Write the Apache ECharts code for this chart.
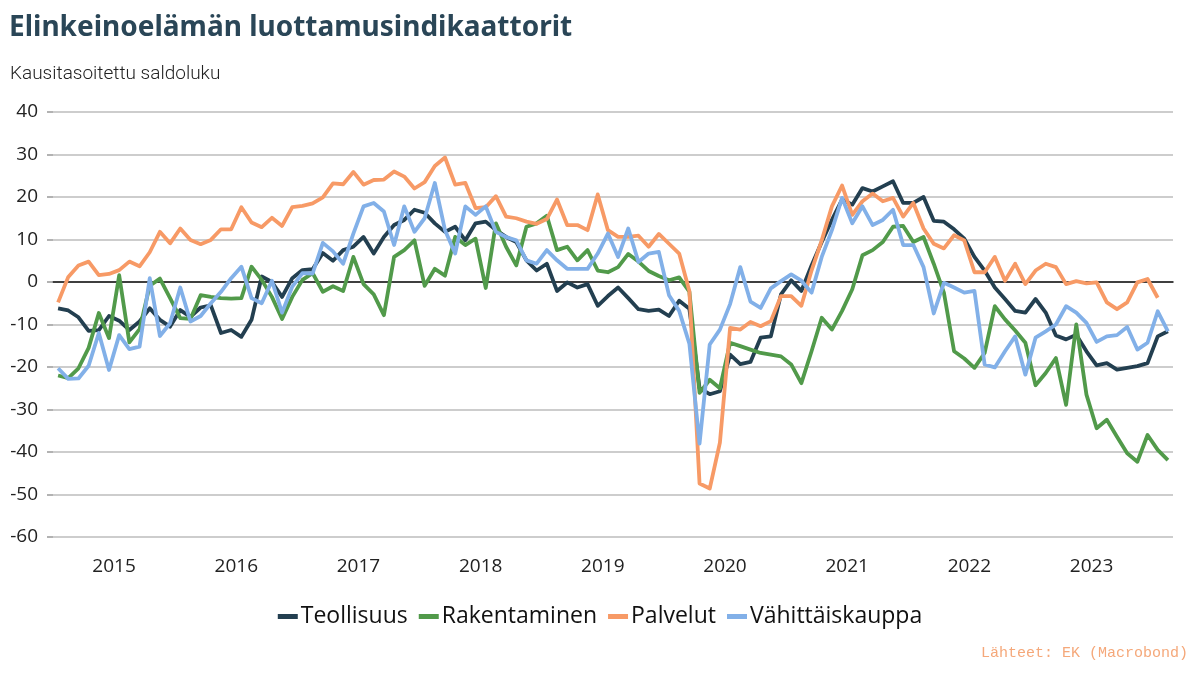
<!DOCTYPE html>
<html><head><meta charset="utf-8">
<script src="https://cdn.jsdelivr.net/npm/echarts@6/dist/echarts.min.js"></script>
<style>html,body{margin:0;padding:0;background:#fff}#c{width:1200px;height:675px}</style>
</head><body><div id="c"></div><script>
// Monthly observations, Jan 2015 – Feb 2024
const startYear = 2015;
const monthCount = 110;
const months = [];
for (let k = 0; k < monthCount; k++) {
  months.push((startYear + Math.floor(k / 12)) + '-' + String(k % 12 + 1).padStart(2, '0'));
}
const yearLabels = ['2015','2016','2017','2018','2019','2020','2021','2022','2023'];

const teollisuus = [
 -6.2,-6.7,-8.3,-11.5,-11.3,-8.0,-9.1,-11.3,-9.3,-6.2,-8.9,-10.5,
 -6.6,-8.2,-6.0,-5.5,-12.0,-11.3,-12.9,-8.9,1.3,0.0,-3.5,0.9,
 2.8,3.0,6.8,5.0,7.5,8.3,10.6,6.7,10.6,13.4,14.6,17.0,
 16.3,13.8,11.8,13.0,9.8,13.8,14.2,12.2,10.6,9.4,5.1,2.7,
 4.3,-2.1,-0.1,-1.3,-0.5,-5.6,-3.3,-1.3,-3.8,-6.4,-6.8,-6.5,
 -8.0,-4.4,-6.3,-25.0,-26.4,-25.7,-17.1,-19.3,-18.8,-13.1,-12.8,-2.9,
 0.4,-2.1,3.9,9.4,14.6,19.4,18.2,22.1,21.3,22.5,23.7,18.6,
 18.6,20.0,14.4,14.2,12.4,10.2,5.9,2.7,-1.3,-4.0,-6.8,-7.2,
 -4.0,-7.2,-12.6,-13.5,-12.4,-16.3,-19.6,-19.1,-20.6,-20.2,-19.8,-19.1,
 -12.8,-11.6
];
const rakentaminen = [
 -22.0,-22.6,-20.3,-15.5,-7.3,-13.2,1.6,-14.2,-11.1,-0.9,0.8,-3.8,
 -8.5,-8.7,-3.1,-3.5,-3.8,-3.9,-3.8,3.6,0.5,-3.5,-8.7,-3.5,
 0.5,2.1,-2.3,-1.0,-2.1,5.9,-0.5,-2.9,-7.8,5.9,7.5,9.8,
 -0.9,3.1,1.5,10.6,8.7,10.2,-1.4,13.8,8.3,3.9,13.0,13.8,
 15.6,7.5,8.3,5.1,7.5,2.7,2.3,3.5,6.6,4.8,2.6,1.4,
 0.4,1.1,-2.3,-26.1,-23.0,-25.0,-14.3,-15.1,-15.9,-16.7,-17.1,-17.5,
 -19.4,-23.8,-16.3,-8.4,-11.2,-6.8,-1.7,6.3,7.5,9.4,13.0,13.2,
 9.4,10.6,4.3,-2.5,-16.3,-18.0,-20.2,-16.7,-5.7,-8.8,-11.4,-14.3,
 -24.3,-21.4,-17.9,-28.9,-10.0,-26.5,-34.4,-32.4,-36.4,-40.3,-42.3,-36.0,
 -39.5,-41.9
];
const palvelut = [
 -4.8,1.2,3.9,4.8,1.6,1.9,2.8,4.8,3.7,7.0,11.8,9.1,
 12.6,9.9,8.9,9.9,12.4,12.4,17.6,14.0,12.9,15.1,13.2,17.6,
 17.9,18.5,19.9,23.2,23.0,25.9,22.9,24.0,24.1,26.0,24.8,22.0,
 23.5,27.3,29.3,22.9,23.3,17.4,17.6,20.2,15.4,15.0,14.2,13.7,
 14.8,19.4,13.4,13.4,12.2,20.6,12.2,10.6,10.6,10.9,8.3,11.3,
 9.0,6.7,-2.1,-47.4,-48.6,-37.8,-10.8,-11.2,-9.4,-10.4,-9.2,-3.3,
 -3.3,-5.6,2.7,9.8,17.8,22.7,15.8,19.0,20.8,19.0,19.8,15.4,
 18.6,12.6,9.0,7.9,11.0,9.8,2.3,2.3,5.9,0.3,4.3,-0.5,
 2.7,4.3,3.5,-0.5,0.2,-0.3,-0.1,-4.8,-6.4,-4.8,-0.1,0.7,
 -3.7
];
const vahittaiskauppa = [
 -20.3,-22.8,-22.7,-19.7,-12.0,-20.7,-12.5,-15.8,-15.2,0.9,-12.7,-9.7,
 -1.3,-9.3,-8.0,-5.0,-2.3,0.9,3.6,-3.8,-5.0,0.3,-7.2,-1.1,
 2.1,2.0,9.2,7.2,4.3,11.4,17.8,18.6,16.6,8.7,17.8,11.8,
 15.0,23.3,12.2,6.7,17.8,15.8,17.8,11.8,10.6,9.8,5.1,4.3,
 7.5,5.1,3.1,3.1,3.1,6.7,11.4,5.9,12.6,4.7,6.7,7.1,
 -3.1,-6.8,-14.5,-38.0,-14.7,-11.2,-5.2,3.5,-4.6,-6.1,-1.5,0.2,
 1.8,0.3,-2.5,5.9,12.2,19.8,13.8,17.8,13.4,14.6,17.0,8.7,
 8.7,3.5,-7.4,-0.2,-1.3,-2.5,-2.1,-19.4,-20.1,-16.3,-12.8,-21.8,
 -13.1,-11.6,-10.0,-5.7,-7.2,-9.6,-14.1,-12.8,-12.5,-10.6,-15.9,-14.3,
 -6.9,-11.6
];

const seriesNames = ['Teollisuus','Rakentaminen','Palvelut','Vähittäiskauppa'];
const seriesData = [teollisuus, rakentaminen, palvelut, vahittaiskauppa];
const seriesColors = ['#233f50','#519a4a','#f79a66','#82b0e8'];

// year label positions: middle of each year, in months from the start
const yearCenters = yearLabels.map((y, k) => 6 + 12 * k);

const font = "'Open Sans', 'Noto Sans', sans-serif";
const chart = echarts.init(document.getElementById('c'));
chart.setOption({
  animation: false,
  backgroundColor: '#ffffff',
  title: [
    { text: 'Elinkeinoelämän luottamusindikaattorit', left: 4, top: 9,
      textStyle: { fontFamily: "'Noto Sans', sans-serif", fontWeight: 'bold', fontSize: 28, color: '#2a4657' } },
    { text: 'Kausitasoitettu saldoluku', left: 5, top: 60,
      textStyle: { fontFamily: "Roboto, sans-serif", fontWeight: 300, fontSize: 19, color: '#222' } }
  ],
  graphic: [{
    type: 'text', right: 12, top: 646,
    style: { text: 'Lähteet: EK (Macrobond)', fontFamily: "'Liberation Mono', 'DejaVu Sans Mono', monospace", fontSize: 15, fill: '#f5a87a' }
  }],
  legend: {
    data: seriesNames, left: 'center', top: 600,
    icon: 'rect', itemWidth: 20, itemHeight: 5, itemGap: 11,
    textStyle: { fontFamily: font, fontSize: 23, color: '#111', padding: [0, 0, 0, -2] }
  },
  grid: { left: 53, right: 27, top: 112, bottom: 138 },
  xAxis: [
    { type: 'category', data: months, boundaryGap: true, position: 'bottom',
      axisLine: { onZero: true, lineStyle: { color: '#111', width: 1.5 } },
      axisTick: { show: false }, axisLabel: { show: false }, splitLine: { show: false } },
    { type: 'value', min: 0, max: monthCount, position: 'bottom',
      axisLine: { show: false }, axisTick: { show: false }, splitLine: { show: false },
      axisLabel: { customValues: yearCenters, margin: 20, fontFamily: font, fontSize: 19, color: '#222',
        formatter: v => yearLabels[Math.round((v - 6) / 12)] } }
  ],
  yAxis: {
    type: 'value', min: -60, max: 40, interval: 10,
    axisLine: { show: false },
    axisTick: { show: true, length: 6, lineStyle: { color: '#999', width: 1.5 } },
    splitLine: { lineStyle: { color: '#bdbdbd', width: 1.5 } },
    axisLabel: { margin: 15, fontFamily: font, fontSize: 19, color: '#222' }
  },
  series: seriesNames.map((n, k) => ({
    name: n, type: 'line', data: seriesData[k], xAxisIndex: 0,
    showSymbol: false, symbol: 'none',
    lineStyle: { color: seriesColors[k], width: 3.8, join: 'round' },
    itemStyle: { color: seriesColors[k] }
  }))
});
</script></body></html>
